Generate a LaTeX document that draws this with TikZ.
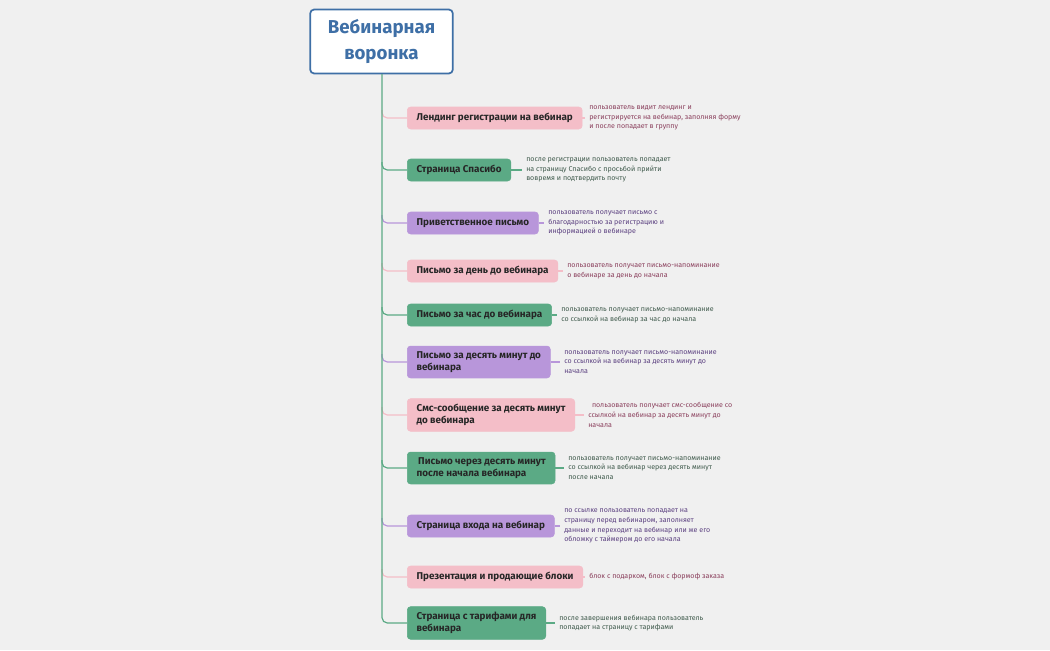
\documentclass[tikz,border=0pt]{standalone}
\usepackage{fontspec}
\setmainfont{Fira Sans}
\definecolor{bg}{HTML}{F0F0F0}
\definecolor{pk}{HTML}{F4BEC8}
\definecolor{gr}{HTML}{5BAA85}
\definecolor{pu}{HTML}{B896DA}
\definecolor{rootc}{HTML}{3E6FA6}
\definecolor{tpk}{HTML}{8A3F5C}
\definecolor{tgr}{HTML}{3F5A4C}
\definecolor{tpu}{HTML}{5B4080}
\begin{document}
\begin{tikzpicture}[x=0.75pt,y=-0.75pt,
 box/.style={draw=#1,fill=#1,rounded corners=2.5pt,anchor=west,align=left,font=\fontsize{7.4}{9.2}\selectfont\bfseries,text=black!85,inner xsep=7pt,inner ysep=4pt,minimum height=16.5pt},
 desc/.style={anchor=west,align=left,font=\fontsize{5.3}{7.3}\selectfont,text=#1,inner sep=0pt},
 br/.style={draw=#1,line width=0.9pt,rounded corners=4pt},
 ln/.style={draw=#1,line width=0.9pt}]
\fill[bg] (0,0) rectangle (1050,650);
\useasboundingbox (0,0) rectangle (1050,650);
\node[draw=rootc,line width=1.3pt,fill=white,rounded corners=3pt,minimum width=107pt,minimum height=48pt,align=center,text=rootc,font=\fontsize{14}{19}\selectfont\bfseries] (root) at (381.5,41.5) {Вебинарная\\воронка};
\coordinate (t0) at (382,74);

\node[box=pk] (n1) at (407,118) {Лендинг регистрации на вебинар};
\node[box=gr] (n2) at (407,170) {Страница Спасибо};
\node[box=pu] (n3) at (407,223) {Приветственное письмо};
\node[box=pk] (n4) at (407,271) {Письмо за день до вебинара};
\node[box=gr] (n5) at (407,315) {Письмо за час до вебинара};
\node[box=pu] (n6) at (407,362) {Письмо за десять минут до\\вебинара};
\node[box=pk] (n7) at (407,415) {Смс-сообщение за десять минут\\до вебинара};
\node[box=gr] (n8) at (407,468) {\,Письмо через десять минут\\после начала вебинара};
\node[box=pu] (n9) at (407,526) {Страница входа на вебинар};
\node[box=pk] (n10) at (407,577) {Презентация и продающие блоки};
\node[box=gr] (n11) at (407,623) {Страница с тарифами для\\вебинара};

\node[desc=tpk] (d1) at (589,118) {пользователь видит лендинг и\\регистрируется на вебинар, заполняя форму\\и после попадает в группу};
\node[desc=tgr] (d2) at (526,170) {после регистрации пользователь попадает\\на страницу Спасибо с просьбой прийти\\вовремя и подтвердить почту};
\node[desc=tpu] (d3) at (548,223) {пользователь получает письмо с\\благодарностью за регистрацию и\\информацией о вебинаре};
\node[desc=tpk] (d4) at (567,271) {пользователь получает письмо-напоминание\\о вебинаре за день до начала};
\node[desc=tgr] (d5) at (561,315) {пользователь получает письмо-напоминание\\со ссылкой на вебинар за час до начала};
\node[desc=tpu] (d6) at (564,362) {пользователь получает письмо-напоминание\\со ссылкой на вебинар за десять минут до\\начала};
\node[desc=tpk] (d7) at (588,415) {\ \ пользователь получает смс-сообщение со\\ссылкой на вебинар за десять минут до\\начала};
\node[desc=tgr] (d8) at (568,468) {пользователь получает письмо-напоминание\\со ссылкой на вебинар через десять минут\\после начала};
\node[desc=tpu] (d9) at (564,526) {по ссылке пользователь попадает на\\страницу перед вебинаром, заполняет\\данные и переходит на вебинар или же его\\обложку с таймером до его начала};
\node[desc=tpk] (d10) at (589,577) {блок с подарком, блок с формоф заказа};
\node[desc=tgr] (d11) at (559,623) {после завершения вебинара пользователь\\попадает на страницу с тарифами};

\foreach \i/\c in {1/pk,2/gr,3/pu,4/pk,5/gr,6/pu,7/pk,8/gr,9/pu,10/pk}{
  \draw[br=\c] ([yshift=6pt]t0 |- n\i.west) -- (t0 |- n\i.west) -- (n\i.west);
  \draw[ln=\c] (n\i.east) -- ([xshift=-3pt]d\i.west);
}
\draw[ln=gr] (n11.east) -- ([xshift=-3pt]d11.west);
\draw[br=gr] (t0) |- (n11.west);
\end{tikzpicture}
\end{document}
